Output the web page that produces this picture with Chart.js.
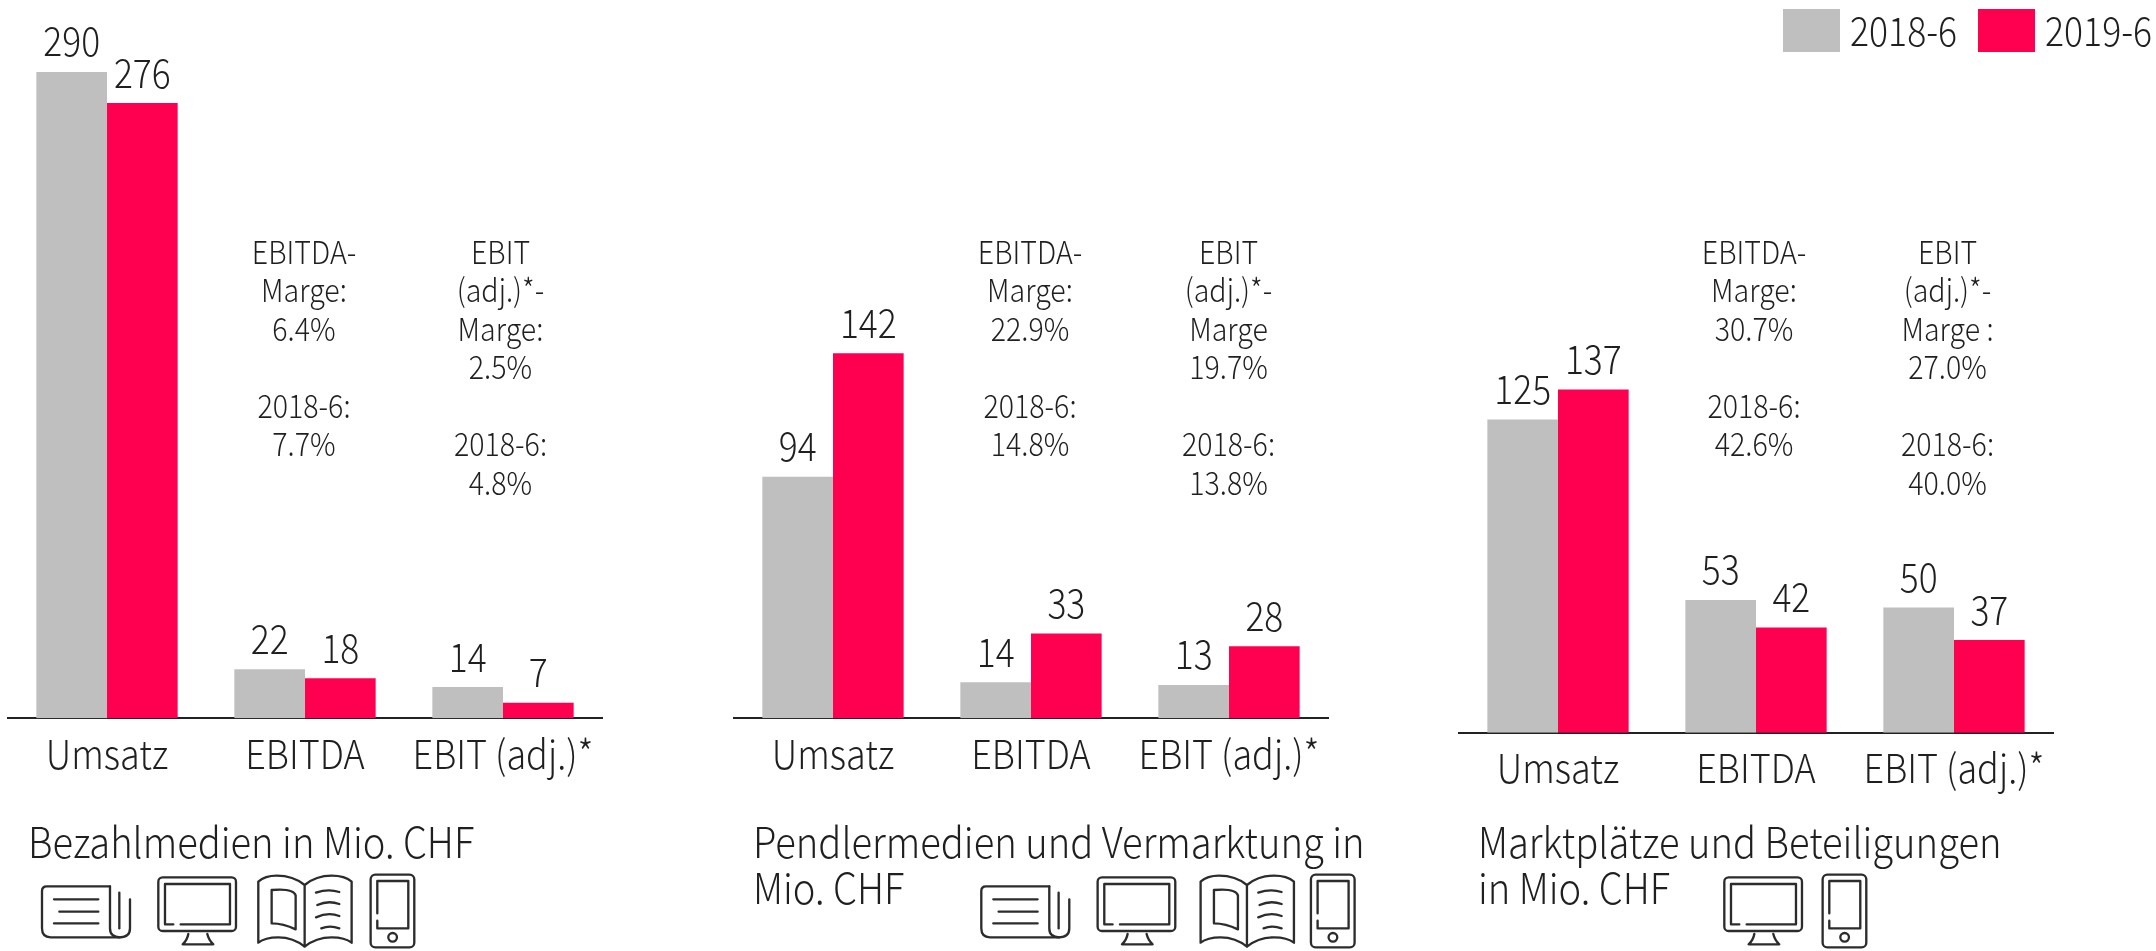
<!DOCTYPE html>
<html lang="de">
<head>
<meta charset="utf-8">
<title>Segmente</title>
<script src="https://cdn.jsdelivr.net/npm/chart.js@4"></script>
<style>
html,body{margin:0;padding:0;background:#fff;width:2156px;height:951px;overflow:hidden}
canvas{position:absolute;left:0;top:0}
svg{position:absolute;left:0;top:0}
</style>
</head>
<body>
<canvas id="c1" width="2156" height="951"></canvas>
<canvas id="c2" width="2156" height="951"></canvas>
<canvas id="c3" width="2156" height="951"></canvas>
<svg width="2156" height="951" viewBox="0 0 2156 951" fill="none" stroke="#2c2c2c" stroke-linecap="round" stroke-linejoin="round">
<defs>
<g id="paper" transform="translate(30 860) scale(.3333)" stroke-width="7">
<path d="M240 79H50Q36 79 36 93V205Q36 232 62 232H270"/><path d="M240 79V205Q240 232 270 232Q300 232 300 205V118"/><path d="M268 98V205"/><path d="M72 118H205M88 155H205M72 190H205"/>
</g>
<g id="monitor" transform="translate(30 860) scale(.3333)" stroke-width="7">
<rect x="385" y="52" width="233" height="161" rx="13"/><path d="M430 193H405V72H600V193H452"/><path d="M475 222Q472 240 458 253H550Q536 240 532 222"/>
</g>
<g id="book" transform="translate(30 860) scale(.3333)" stroke-width="7">
<path d="M824 75Q790 47 740 47Q705 47 685 65V248Q705 232 745 232Q790 232 824 260Q858 232 905 232Q945 232 965 248V65Q945 47 905 47Q858 47 824 75V260"/>
<path d="M725 90Q790 84 797 106V208Q760 190 725 190Z"/><path d="M858 98Q895 85 928 96M862 135Q895 120 928 132M858 172Q895 155 928 168M874 205Q900 195 928 205"/>
</g>
<g id="phone" transform="translate(30 860) scale(.3333)" stroke-width="7">
<rect x="1022" y="44" width="131" height="218" rx="14"/><path d="M1042 160V63H1135V205H1042V182"/><circle cx="1088" cy="232" r="13"/>
</g>
</defs>
<use href="#paper"/><use href="#monitor"/><use href="#book"/><use href="#phone"/>
<use href="#paper" x="939.3"/><use href="#monitor" x="939.3"/><use href="#book" x="942.3"/><use href="#phone" x="940.3"/>
<use href="#monitor" x="1566"/><use href="#phone" x="1452"/>
</svg>
<script>
// ---- data ----
const categories = ['Umsatz', 'EBITDA', 'EBIT (adj.)*'];
const seriesNames = ['2018-6', '2019-6'];
const bezahl2018 = [290, 22, 14];
const bezahl2019 = [276, 18, 7];
const pendler2018 = [94, 14, 13];
const pendler2019 = [142, 33, 28];
const markt2018 = [125, 53, 50];
const markt2019 = [137, 42, 37];
const bezahlTitle = ['Bezahlmedien in Mio. CHF'];
const pendlerTitle = ['Pendlermedien und Vermarktung in', 'Mio. CHF'];
const marktTitle = ['Marktplätze und Beteiligungen', 'in Mio. CHF'];
const bezahlNotes = [
  ['EBITDA-', 'Marge:', '6.4%', '', '2018-6:', '7.7%'],
  ['EBIT', '(adj.)*-', 'Marge:', '2.5%', '', '2018-6:', '4.8%']
];
const pendlerNotes = [
  ['EBITDA-', 'Marge:', '22.9%', '', '2018-6:', '14.8%'],
  ['EBIT', '(adj.)*-', 'Marge', '19.7%', '', '2018-6:', '13.8%']
];
const marktNotes = [
  ['EBITDA-', 'Marge:', '30.7%', '', '2018-6:', '42.6%'],
  ['EBIT', '(adj.)*-', 'Marge :', '27.0%', '', '2018-6:', '40.0%']
];

// ---- style ----
const GREY = '#bfbfbf', RED = '#ff0050', INK = '#1f1f1f';
const FAMILY = "'Noto Sans CJK SC','Noto Sans',sans-serif";
const font = (s) => `300 ${s}px ${FAMILY}`;
const XH = 70;

// the reference face is narrower than the installed one: squeeze glyphs horizontally
function squeezed(ctx, t, x, y, sx, align) {
  ctx.save();
  ctx.translate(x, y);
  ctx.scale(sx, 1);
  ctx.textAlign = align;
  ctx.fillText(t, 0, 0);
  ctx.restore();
}

const notesPlugin = {
  id: 'panelText',
  afterDraw(chart, args, o) {
    const ctx = chart.ctx;
    ctx.save();
    ctx.fillStyle = INK;
    ctx.textBaseline = 'alphabetic';
    // category labels
    const xs = chart.scales.x;
    ctx.font = font(40);
    xs.ticks.forEach((tick, i) => {
      squeezed(ctx, xs.getLabelForValue(tick.value), xs.getPixelForTick(i), chart.chartArea.bottom + 50.7, 0.9, 'center');
    });
    // value labels
    chart.data.datasets.forEach((d, i) => {
      chart.getDatasetMeta(i).data.forEach((bar, j) => {
        squeezed(ctx, String(d.data[j]), bar.x, bar.y - 15.5, 0.885, 'center');
      });
    });
    // margin notes
    ctx.font = font(32);
    o.notes.forEach((lines, c) => {
      lines.forEach((t, k) => squeezed(ctx, t, o.noteX[c], 263.9 + k * 38.5, 0.893, 'center'));
    });
    // panel title
    ctx.font = font(42);
    o.title.forEach((t, k) => squeezed(ctx, t, o.titleX, 857.6 + k * 46, 0.908, 'left'));
    // legend (right-most panel only)
    if (o.legend) {
      ctx.font = font(40);
      chart.data.datasets.forEach((d, i) => {
        const x = o.legend[i];
        ctx.fillStyle = d.backgroundColor;
        ctx.fillRect(x, 9, 57, 43);
        ctx.fillStyle = INK;
        squeezed(ctx, d.label, x + 67, 46, 0.89, 'left');
      });
    }
    ctx.restore();
  }
};

function panel(id, a, b, left, axisY, perUnit, yMax, opts) {
  new Chart(document.getElementById(id), {
    type: 'bar',
    data: {
      labels: categories,
      datasets: [
        { label: seriesNames[0], data: a, backgroundColor: GREY },
        { label: seriesNames[1], data: b, backgroundColor: RED }
      ]
    },
    plugins: [notesPlugin],
    options: {
      responsive: false,
      animation: false,
      events: [],
      categoryPercentage: 0.7137,
      barPercentage: 1,
      layout: { padding: {
        left: left,
        right: 2156 - left - 594,
        top: axisY - yMax * perUnit,
        bottom: 951 - axisY - XH
      } },
      plugins: { legend: { display: false }, tooltip: { enabled: false }, panelText: opts },
      scales: {
        y: { display: false, min: 0, max: yMax },
        x: {
          afterFit(s) { s.height = XH; },
          grid: { display: false, drawTicks: false },
          border: { display: true, color: '#222', width: 2 },
          ticks: { display: false, autoSkip: false, maxRotation: 0 }
        }
      }
    }
  });
}

panel('c1', bezahl2018, bezahl2019, 8, 718.3, 2.229, 300,
  { notes: bezahlNotes, noteX: [304, 500.5], title: bezahlTitle, titleX: 28 });
panel('c2', pendler2018, pendler2019, 734, 718.3, 2.57, 150,
  { notes: pendlerNotes, noteX: [1030, 1228.5], title: pendlerTitle, titleX: 753 });
panel('c3', markt2018, markt2019, 1459, 732.7, 2.505, 150,
  { notes: marktNotes, noteX: [1754, 1947.5], title: marktTitle, titleX: 1478, legend: [1783, 1978] });
</script>
</body>
</html>
